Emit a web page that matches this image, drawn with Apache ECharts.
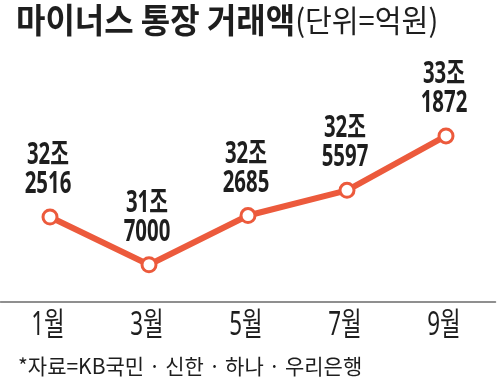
<!DOCTYPE html>
<html><head><meta charset="utf-8">
<script src="https://cdn.jsdelivr.net/npm/echarts@6/dist/echarts.min.js"></script>
<style>html,body{margin:0;padding:0;background:#fff}#c{width:500px;height:391px}</style>
</head><body><div id="c"></div>
<script>
const categories = ['1월', '3월', '5월', '7월', '9월'];
const values = [322516, 317000, 322685, 325597, 331872];
const titleMain = '마이너스 통장 거래액';
const titleUnit = '(단위=억원)';
const sourceText = '*자료=KB국민 · 신한 · 하나 · 우리은행';

const fam = '"Noto Sans", "Noto Sans CJK KR", sans-serif';
const cjk = '"Noto Sans CJK KR", sans-serif';
const chart = echarts.init(document.getElementById('c'));
function fmt(v) {
  const jo = Math.floor(v / 10000);
  const rest = v % 10000;
  return jo + '조\n' + String(rest).padStart(4, '0');
}
const labelData = values.map((v, i) => [i, v]);
const catData = categories.map((c, i) => [i, c]);

chart.setOption({
  animation: false,
  backgroundColor: '#fff',
  grid: { left: 0.5, right: 4.5, top: 108, bottom: 89 },
  xAxis: {
    type: 'category', data: categories, boundaryGap: true,
    axisLine: { lineStyle: { color: '#6b6b6b', width: 1.5 } },
    axisTick: { alignWithLabel: true, inside: true, length: 7, lineStyle: { color: '#6b6b6b', width: 1.2 } },
    axisLabel: { show: false }
  },
  yAxis: { type: 'value', min: 312700, max: 335100, show: false, splitLine: { show: false } },
  series: [{
    type: 'line', data: values, z: 2,
    lineStyle: { color: '#ec5a3c', width: 6 },
    symbol: 'circle', symbolSize: 14,
    itemStyle: { color: '#fff', borderColor: '#ec5a3c', borderWidth: 3 },
    label: { show: false }
  }, {
    type: 'custom', data: labelData, z: 3, clip: false,
    encode: { x: 0, y: 1 },
    renderItem: function (params, api) {
      const pt = api.coord([api.value(0), api.value(1)]);
      return {
        type: 'text', x: pt[0] - 2, y: pt[1] - 18, scaleX: 0.68,
        style: {
          text: fmt(api.value(1)), textAlign: 'center', textVerticalAlign: 'bottom',
          fontFamily: fam, fontWeight: 'bold', fontSize: 30, lineHeight: 29, fill: '#1e1e1e'
        }
      };
    }
  }, {
    type: 'custom', data: catData, z: 3, clip: false,
    encode: { x: 0 },
    renderItem: function (params, api) {
      const x = api.coord([api.value(0), 320000])[0];
      const y = params.coordSys.y + params.coordSys.height + 8;
      return {
        type: 'text', x: x - 2, y: y, scaleX: 0.7,
        style: {
          text: categories[params.dataIndex], textAlign: 'center', textVerticalAlign: 'top',
          fontFamily: fam, fontSize: 32, fill: '#1e1e1e'
        }
      };
    }
  }],
  graphic: [
    {
      type: 'text', left: 16, top: 3, scaleX: 0.94,
      style: {
        text: '{a|' + titleMain + '}{b|' + titleUnit + '}',
        rich: {
          a: { fontFamily: cjk, fontWeight: 'bold', fontSize: 34, fill: '#1e1e1e' },
          b: { fontFamily: cjk, fontWeight: 'normal', fontSize: 31, fill: '#1e1e1e' }
        }
      }
    },
    {
      type: 'text', left: 18, top: 356,
      style: { text: sourceText, fontFamily: cjk, fontSize: 21, fill: '#1e1e1e' }
    }
  ]
});
</script></body></html>
